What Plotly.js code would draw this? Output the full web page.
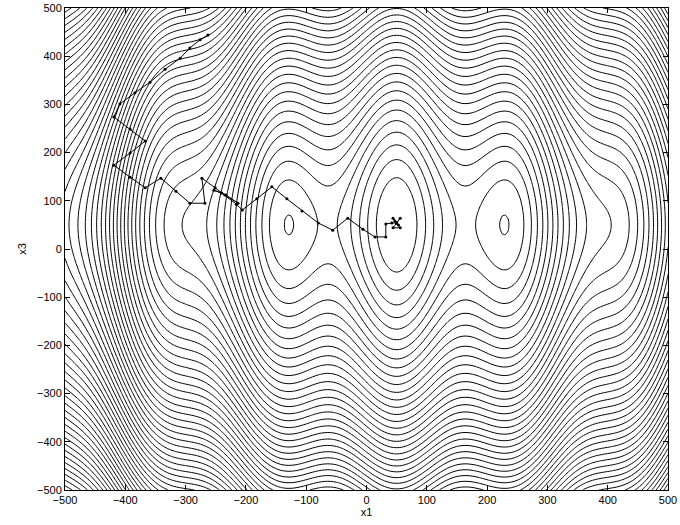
<!DOCTYPE html>
<html><head><meta charset="utf-8">
<script src="https://cdn.plot.ly/plotly-3.0.1.min.js"></script>
<style>html,body{margin:0;padding:0;background:#fff}#chart{width:680px;height:525px}</style>
</head><body><div id="chart"></div>
<script>
// tick labels
const axisTicks = [-500, -400, -300, -200, -100, 0, 100, 200, 300, 400, 500];

// search path (x1, x3)
const pathX1 = [-263, -276, -293, -309, -334, -359, -384, -409, -419, -392, -367, -392, -419, -392, -367,
  -341, -316, -293, -268, -273, -251, -235, -213, -233, -253, -240, -216, -206, -182, -157, -132, -107,
  -80, -56, -31, -6, 14, 32, 32, 42, 50, 56, 44, 56, 44, 50, 47, 53, 50];
const pathX3 = [444, 434, 417, 396, 373, 346, 324, 301, 274, 249, 224, 199, 174, 149, 127,
  147, 120, 95, 95, 147, 127, 112, 95, 112, 122, 116, 93, 81, 104, 129, 104, 79,
  54, 39, 64, 41, 25, 25, 52, 54, 54, 64, 44, 44, 64, 54, 58, 50, 54];

// surface features (well positions, spacing, relative depths)
const gridX1 = [-500, 500], gridX3 = [-500, 500], gridStep = 5;
const wellCentreX1 = 50, wellCentreX3 = 50;
const ripplePeriod = 201, rippleDepth = 1.3;
const bowlX1 = 0.727;
const bowlX3 = 1.363, flatX3 = 1.2, powerX3 = 1.7;
const levelStart = 0.74, levelStep = 0.64, levelCount = 90;

const xs = [], ys = [];
for (let v = gridX1[0]; v <= gridX1[1]; v += gridStep) xs.push(v);
for (let v = gridX3[0]; v <= gridX3[1]; v += gridStep) ys.push(v);
const z = ys.map(x3 => xs.map(x1 => {
  const s = (x1 - wellCentreX1) / 100, t = (x3 - wellCentreX3) / 100;
  return bowlX1 * s * s
    + rippleDepth * (1 - Math.cos(2 * Math.PI * (x1 - wellCentreX1) / ripplePeriod))
    + bowlX3 * (Math.pow(1 + (t / flatX3) * (t / flatX3), powerX3 / 2) - 1);
}));

const font = {family: 'Liberation Sans, Arial, Helvetica, sans-serif', size: 11, color: '#000'};

const traces = [
  {
    type: 'contour', x: xs, y: ys, z: z,
    autocontour: false,
    contours: {start: levelStart, end: levelStart + levelStep * levelCount, size: levelStep, coloring: 'lines'},
    colorscale: [[0, '#000'], [1, '#000']],
    line: {color: '#000', width: 1, smoothing: 1},
    showscale: false, hoverinfo: 'skip'
  },
  {
    type: 'scatter', mode: 'lines+markers', x: pathX1, y: pathX3,
    line: {color: '#000', width: 1},
    marker: {color: '#000', size: 3},
    hoverinfo: 'skip'
  }
];

const axisBase = {
  range: [-500, 500], tickvals: axisTicks, ticks: 'inside', ticklen: 5, tickcolor: '#000',
  showline: true, linecolor: '#000', linewidth: 1, mirror: 'ticks',
  showgrid: false, zeroline: false, tickfont: font
};

const layout = {
  width: 680, height: 525,
  margin: {l: 65, r: 12, t: 8, b: 35},
  paper_bgcolor: '#fff', plot_bgcolor: '#fff',
  showlegend: false, font: font,
  xaxis: Object.assign({}, axisBase, {title: {text: 'x1', font: font, standoff: 2}}),
  yaxis: Object.assign({}, axisBase, {title: {text: 'x3', font: font, standoff: 8}})
};

Plotly.newPlot('chart', traces, layout, {staticPlot: true, displayModeBar: false});
</script>
</body></html>
